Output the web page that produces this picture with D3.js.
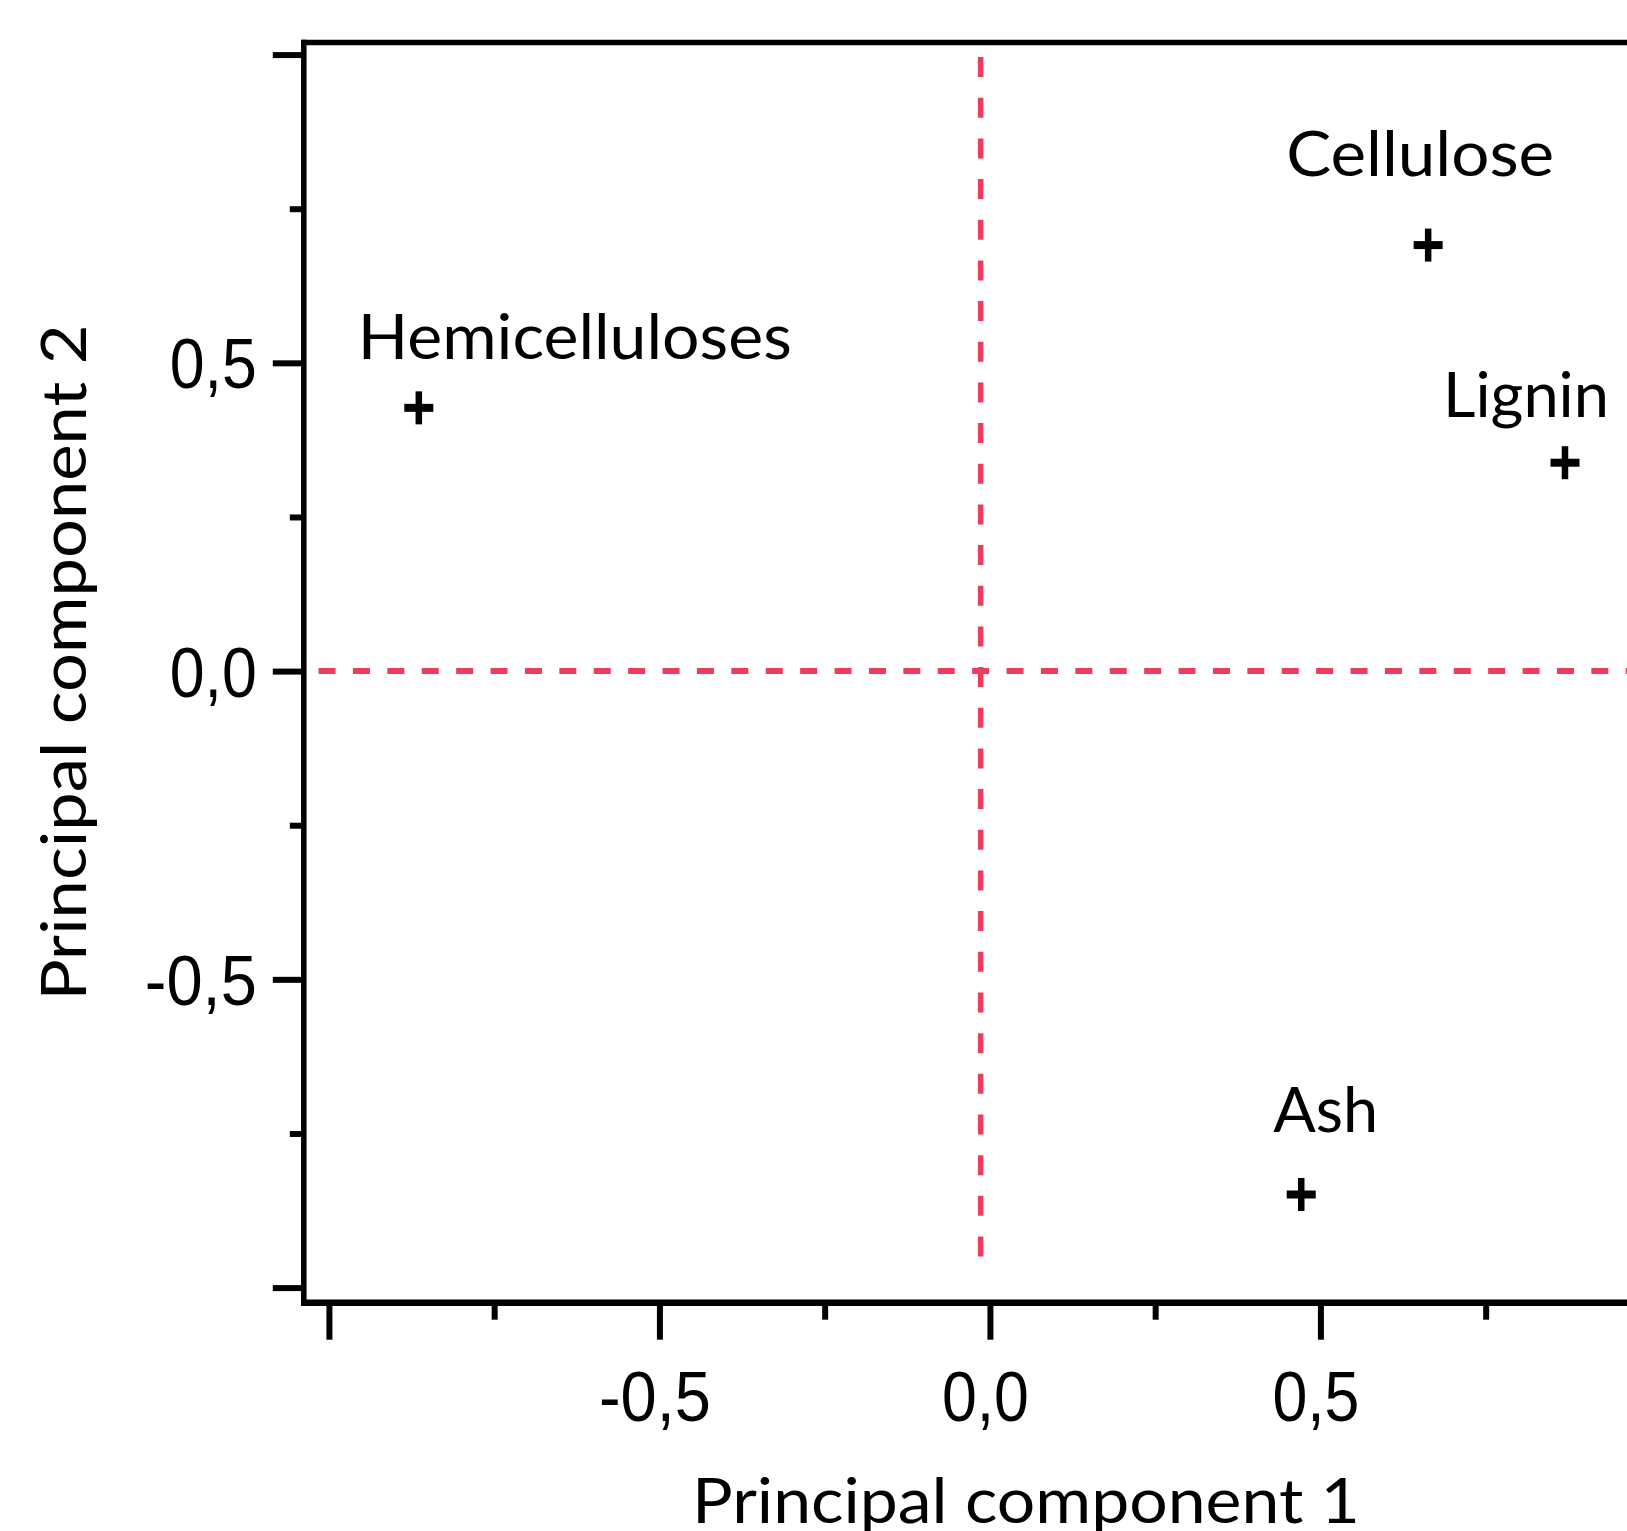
<!DOCTYPE html>
<html>
<head>
<meta charset="utf-8">
<script src="https://cdn.jsdelivr.net/npm/d3@7/dist/d3.min.js"></script>
<style>
  html, body { margin: 0; padding: 0; background: #ffffff; }
  svg { display: block; }
</style>
</head>
<body>
<div id="chart"></div>
<script>
// ---------- data ----------
const labels = ["Hemicelluloses", "Cellulose", "Lignin", "Ash"];
const pc1 = [-0.864, 0.663, 0.870, 0.471];
const pc2 = [0.427, 0.691, 0.338, -0.849];

const xMajorTicks = [-1, -0.5, 0, 0.5];
const xMinorTicks = [-0.75, -0.25, 0.25, 0.75];
const yMajorTicks = [1, 0.5, 0, -0.5, -1];
const yMinorTicks = [0.75, 0.25, -0.25, -0.75];
const labelledTicks = [-0.5, 0, 0.5];

const refLineX = -0.014;   // vertical dashed reference
const refLineY = 0;        // horizontal dashed reference
const vRefExtent = [0.996, -0.952];
const hRefExtent = [-1.0157, 1.07];

const xTitle = "Principal component 1";
const yTitle = "Principal component 2";

// ---------- layout ----------
const W = 1627, H = 1531;
const frame = { left: 303.8, top: 42.5, bottom: 1302.7 };
const xDomain = [-1.038, 1.07];
const yDomain = [1.0196, -1.0245];
const pxPerX = 661;

const x = d3.scaleLinear().domain(xDomain)
  .range([frame.left, frame.left + pxPerX * (xDomain[1] - xDomain[0])]);
const y = d3.scaleLinear().domain(yDomain).range([frame.top, frame.bottom]);

const labelOffsets = [[-61, -49], [-142, -68.6], [-122, -46], [-28, -63]];
const labelLengths = [434, 268, 166, 105];

const fmt = d => labelledTicks.includes(d) ? d.toFixed(1).replace(".", ",") : "";
const tickFont = "'Liberation Sans Narrow', 'Liberation Sans', Arial, sans-serif";
const textFont = "Lato, 'Noto Sans', sans-serif";
const red = "#EF3B5E";

const svg = d3.select("#chart").append("svg")
  .attr("width", W).attr("height", H)
  .attr("viewBox", `0 0 ${W} ${H}`);

svg.append("rect").attr("width", W).attr("height", H).attr("fill", "#fff");

// ---------- dashed reference lines ----------
svg.append("line")
  .attr("x1", x(hRefExtent[0])).attr("x2", x(hRefExtent[1]))
  .attr("y1", y(refLineY)).attr("y2", y(refLineY))
  .attr("stroke", red).attr("stroke-width", 6)
  .attr("stroke-dasharray", "17 17.4");

svg.append("line")
  .attr("x1", x(refLineX)).attr("x2", x(refLineX))
  .attr("y1", y(vRefExtent[0])).attr("y2", y(vRefExtent[1]))
  .attr("stroke", red).attr("stroke-width", 5.5)
  .attr("stroke-dasharray", "20 20.67");

// ---------- axes ----------
function styleAxis(g) {
  g.select(".domain").remove();
  g.selectAll(".tick line").attr("stroke", "#000").attr("stroke-width", 6);
}

// X axis
const gxMajor = svg.append("g").attr("transform", `translate(0,${frame.bottom})`)
  .call(d3.axisBottom(x).tickValues(xMajorTicks).tickSize(37).tickSizeOuter(0).tickFormat(fmt));
styleAxis(gxMajor);
gxMajor.selectAll(".tick text")
  .attr("y", 118).attr("dy", 0).attr("dx", -5)
  .attr("fill", "#000")
  .style("font-family", tickFont).style("font-size", "71px")
  .attr("textLength", d => fmt(d).length ? (d < 0 ? 112 : 87) : null)
  .attr("lengthAdjust", "spacingAndGlyphs");

const gxMinor = svg.append("g").attr("transform", `translate(0,${frame.bottom})`)
  .call(d3.axisBottom(x).tickValues(xMinorTicks).tickSize(17).tickSizeOuter(0).tickFormat(""));
styleAxis(gxMinor);

// Y axis
const gyMajor = svg.append("g").attr("transform", `translate(${frame.left},0)`)
  .call(d3.axisLeft(y).tickValues(yMajorTicks).tickSize(31).tickSizeOuter(0).tickFormat(fmt));
styleAxis(gyMajor);
gyMajor.selectAll(".tick text")
  .attr("x", -47).attr("y", 25).attr("dy", 0)
  .attr("fill", "#000")
  .style("font-family", tickFont).style("font-size", "71px")
  .attr("textLength", d => fmt(d).length ? (d < 0 ? 112 : 87) : null)
  .attr("lengthAdjust", "spacingAndGlyphs");

const gyMinor = svg.append("g").attr("transform", `translate(${frame.left},0)`)
  .call(d3.axisLeft(y).tickValues(yMinorTicks).tickSize(14).tickSizeOuter(0).tickFormat(""));
styleAxis(gyMinor);

// ---------- frame ----------
const frameG = svg.append("g").attr("stroke", "#000").attr("stroke-width", 5.5).attr("fill", "none");
frameG.append("line")
  .attr("x1", x(xDomain[0])).attr("x2", x(xDomain[0]))
  .attr("y1", y(yDomain[0]) - 2.75).attr("y2", y(yDomain[1]) + 3);
frameG.append("line")
  .attr("x1", x(xDomain[0]) - 2.75).attr("x2", x(xDomain[1]))
  .attr("y1", y(yDomain[0])).attr("y2", y(yDomain[0]));
frameG.append("line")
  .attr("x1", x(xDomain[0]) - 2.75).attr("x2", x(xDomain[1]))
  .attr("y1", y(yDomain[1])).attr("y2", y(yDomain[1]))
  .attr("stroke-width", 6.5);

// ---------- points ----------
const pts = labels.map((name, i) => ({ name, px: pc1[i], py: pc2[i], i }));

const ptG = svg.append("g").selectAll("g.pt").data(pts).join("g")
  .attr("class", "pt")
  .attr("transform", d => `translate(${x(d.px)},${y(d.py)})`);

ptG.append("line").attr("x1", -14.5).attr("x2", 14.5).attr("y1", 0).attr("y2", 0)
  .attr("stroke", "#000").attr("stroke-width", 8);
ptG.append("line").attr("x1", 0).attr("x2", 0).attr("y1", -16.5).attr("y2", 16.5)
  .attr("stroke", "#000").attr("stroke-width", 6.5);

ptG.append("text")
  .attr("x", d => labelOffsets[d.i][0])
  .attr("y", d => labelOffsets[d.i][1])
  .attr("textLength", d => labelLengths[d.i])
  .attr("lengthAdjust", "spacingAndGlyphs")
  .attr("fill", "#000")
  .style("font-family", textFont).style("font-size", "61px")
  .text(d => d.name);

// ---------- axis titles ----------
svg.append("text")
  .attr("x", 1026).attr("y", 1523)
  .attr("text-anchor", "middle")
  .attr("textLength", 668).attr("lengthAdjust", "spacingAndGlyphs")
  .attr("fill", "#000")
  .style("font-family", textFont).style("font-size", "61px")
  .text(xTitle);

svg.append("text")
  .attr("transform", "translate(85.5,662.5) rotate(-90)")
  .attr("text-anchor", "middle")
  .attr("textLength", 676).attr("lengthAdjust", "spacingAndGlyphs")
  .attr("fill", "#000")
  .style("font-family", textFont).style("font-size", "61px")
  .text(yTitle);
</script>
</body>
</html>
